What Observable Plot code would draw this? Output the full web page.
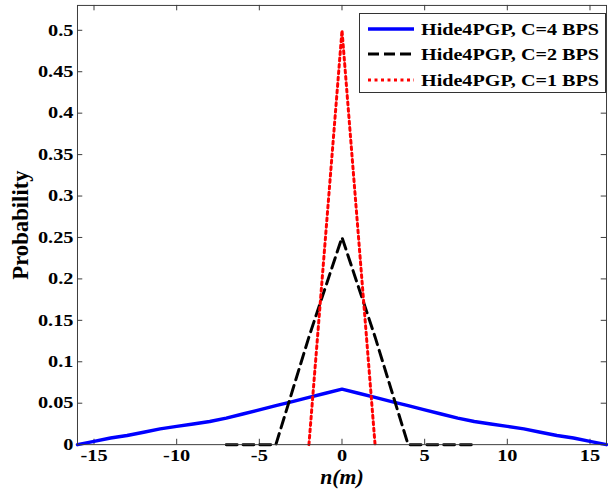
<!DOCTYPE html>
<html>
<head>
<meta charset="utf-8">
<script src="https://cdn.jsdelivr.net/npm/d3@7"></script>
<script src="https://cdn.jsdelivr.net/npm/@observablehq/plot@0.6"></script>
<style>
  html, body { margin: 0; padding: 0; background: #fff; overflow: hidden; }
  #chart { position: relative; width: 608px; height: 499px; overflow: hidden; }
  #legend {
    position: absolute; left: 359px; top: 13px; width: 247px; height: 80px;
    border: 1px solid #333; background: #fff; box-sizing: border-box;
    font-family: "Liberation Serif", "Times New Roman", serif; font-weight: bold; font-size: 17.5px;
  }
  #legend .row { position: absolute; left: 8px; height: 20px; display: flex; align-items: center; }
  #legend .row svg { width: 48px; height: 20px; flex: none; }
  #legend .row span { display: inline-block; margin-left: 5px; transform: scaleX(1.15); transform-origin: left center; white-space: nowrap; color: #000; }
</style>
</head>
<body>
<div id="chart"></div>
<script>
// Hide4PGP, C=4 BPS: probability of each noise value n(m)
const c4N = [-16, -15, -14, -13, -12, -11, -10, -9, -8, -7, -6, -5, -4, -3, -2, -1, 0,
             1, 2, 3, 4, 5, 6, 7, 8, 9, 10, 11, 12, 13, 14, 15, 16];
const c4P = [0, 0.004, 0.008, 0.011, 0.015, 0.019, 0.022, 0.025, 0.028, 0.032, 0.037, 0.042, 0.047, 0.052, 0.057, 0.062, 0.067,
             0.062, 0.057, 0.052, 0.047, 0.042, 0.037, 0.032, 0.028, 0.025, 0.022, 0.019, 0.015, 0.011, 0.008, 0.004, 0];

// Hide4PGP, C=2 BPS
const c2N = [-7, -6, -5, -4, -3, -2, -1, 0, 1, 2, 3, 4, 5, 6, 7, 8];
const c2P = [0, 0, 0, 0, 0.065, 0.13, 0.19, 0.25, 0.19, 0.13, 0.065, 0, 0, 0, 0, 0];

// Hide4PGP, C=1 BPS
const c1N = [-2, -1, 0, 1, 2];
const c1P = [0, 0.25, 0.5, 0.25, 0];

const seriesNames = ["Hide4PGP, C=4 BPS", "Hide4PGP, C=2 BPS", "Hide4PGP, C=1 BPS"];
const seriesColors = ["#0000ff", "#000000", "#ff0000"];

const xTicks = [-15, -10, -5, 0, 5, 10, 15];
const yTicks = [0, 0.05, 0.1, 0.15, 0.2, 0.25, 0.3, 0.35, 0.4, 0.45, 0.5];
const yTickLabels = ["0", "0.05", "0.1", "0.15", "0.2", "0.25", "0.3", "0.35", "0.4", "0.45", "0.5"];

const xDomain = [-16, 16];
const yDomain = [0, 0.53];

const toRows = (ns, ps) => ns.map((n, i) => ({n, p: ps[i]}));
const c4 = toRows(c4N, c4P);
const c2 = toRows(c2N, c2P);
const c1 = toRows(c1N, c1P);

const frameColor = "#3a3a3a";
const xTickLen = 0.32;   // inward tick length along x (data units)
const yTickLen = 0.0065; // inward tick length along y (data units)

const plot = Plot.plot({
  width: 616,
  height: 499,
  marginLeft: 78,
  marginRight: 2,
  marginTop: 5,
  marginBottom: 49,
  style: "font-family: 'Liberation Serif', 'Times New Roman', serif; font-weight: bold; font-size: 16.5px; color: #000; background: #fff;",
  x: {domain: xDomain},
  y: {domain: yDomain},
  marks: [
    // inward tick marks on all four sides
    Plot.ruleX(xTicks, {x: d => d, y1: yDomain[0], y2: yDomain[0] + yTickLen, stroke: frameColor}),
    Plot.ruleX(xTicks, {x: d => d, y1: yDomain[1], y2: yDomain[1] - yTickLen, stroke: frameColor}),
    Plot.ruleY(yTicks, {y: d => d, x1: xDomain[0], x2: xDomain[0] + xTickLen, stroke: frameColor}),
    Plot.ruleY(yTicks, {y: d => d, x1: xDomain[1], x2: xDomain[1] - xTickLen, stroke: frameColor}),
    Plot.axisX({ticks: xTicks, tickSize: 0, tickPadding: 5, label: null, tickFormat: d => String(d)}),
    Plot.axisY({ticks: yTicks, tickSize: 0, tickPadding: 4, label: null,
                tickFormat: d => yTickLabels[yTicks.indexOf(d)]}),
    Plot.line(c4, {x: "n", y: "p", stroke: seriesColors[0], strokeWidth: 3.5}),
    Plot.line(c2, {x: "n", y: "p", stroke: seriesColors[1], strokeWidth: 3, strokeDasharray: "11,6"}),
    Plot.line(c1, {x: "n", y: "p", stroke: seriesColors[2], strokeWidth: 3, strokeDasharray: "3,3.5"}),
    Plot.frame({stroke: frameColor}),
    Plot.text(["n(m)"], {frameAnchor: "bottom", textAnchor: "middle", dy: 40, fontSize: 22, fontStyle: "italic", fontWeight: "bold", fill: "#000"}),
    Plot.text(["Probability"], {frameAnchor: "left", textAnchor: "middle", dx: -58, rotate: -90, fontSize: 23, fontWeight: "bold", fill: "#000"})
  ]
});

// widen the tick label glyphs a little
plot.querySelectorAll('g[aria-label$="tick label"] text').forEach(t => {
  const x = +(t.getAttribute("x") || 0);
  const tr = t.getAttribute("transform") || "";
  t.setAttribute("transform", `${tr} translate(${x},0) scale(1.25,1) translate(${-x},0)`);
});

const chart = document.getElementById("chart");
chart.appendChild(plot);

// legend box in the upper right corner
const legend = document.createElement("div");
legend.id = "legend";
const dashes = [null, "11,5", "3,3.5"];
const rowTops = [5, 30, 56];
seriesNames.forEach((name, i) => {
  const row = document.createElement("div");
  row.className = "row";
  row.style.top = rowTops[i] + "px";
  const dash = dashes[i] ? ` stroke-dasharray="${dashes[i]}"` : "";
  row.innerHTML = `<svg viewBox="0 0 48 20"><line x1="0" y1="10" x2="46" y2="10" stroke="${seriesColors[i]}" stroke-width="${i === 0 ? 3.5 : 3}"${dash}/></svg><span>${name}</span>`;
  legend.appendChild(row);
});
chart.appendChild(legend);
</script>
</body>
</html>
